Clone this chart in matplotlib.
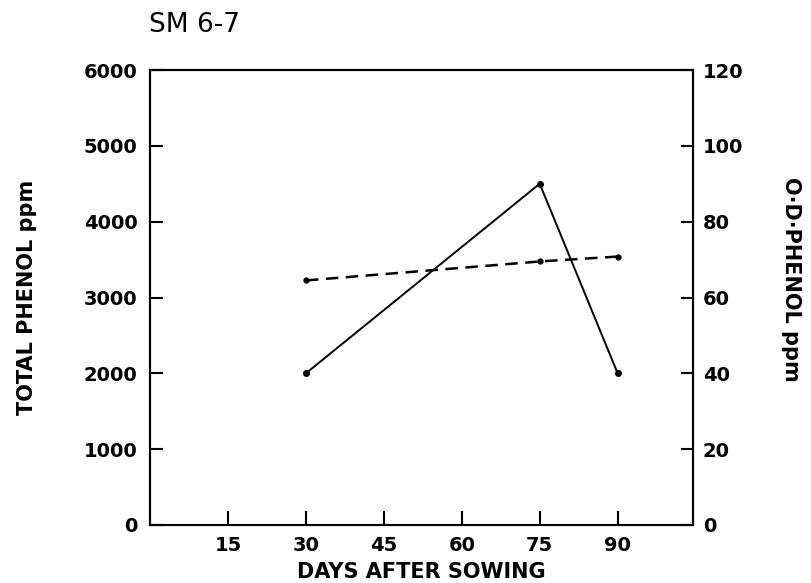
import matplotlib
matplotlib.use('Agg')
import matplotlib.pyplot as plt

# data
days = [30, 75, 90]
total_phenol = [2000, 4500, 2000]      # left axis, ppm
od_phenol = [64.5, 69.5, 70.8]          # right axis, ppm

x_ticks = [15, 30, 45, 60, 75, 90]
left_ticks = [0, 1000, 2000, 3000, 4000, 5000, 6000]
right_ticks = [0, 20, 40, 60, 80, 100, 120]

plt.rcParams['font.family'] = 'DejaVu Sans'
plt.rcParams['font.weight'] = 'bold'
plt.rcParams['axes.labelweight'] = 'bold'
plt.rcParams['axes.linewidth'] = 1.5

fig = plt.figure(figsize=(8.11, 5.83), dpi=100)
ax = fig.add_axes([150 / 811, 1 - 525 / 583, 543 / 811, 455 / 583])
ax2 = ax.twinx()

ax.plot(days, total_phenol, '-', color='black', lw=1.4,
        marker='o', ms=4, zorder=3)
ax2.plot(days, od_phenol, '--', color='black', lw=1.8, dashes=(5, 3),
         marker='o', ms=3.5, zorder=3)

ax.set_xlim(0, 104.5)
ax.set_ylim(0, 6000)
ax2.set_ylim(0, 120)

ax.set_xticks(x_ticks)
ax.set_yticks(left_ticks)
ax2.set_yticks(right_ticks)

ax.tick_params(axis='x', direction='in', length=10, width=1.5,
               pad=8, labelsize=14)
ax.tick_params(axis='y', direction='in', length=9, width=1.5,
               pad=9, labelsize=14)
ax2.tick_params(axis='y', direction='in', length=9, width=1.5,
                pad=7, labelsize=14)

ax.set_xlabel('DAYS AFTER SOWING', fontsize=15, labelpad=5)
ax.set_ylabel('TOTAL PHENOL ppm', fontsize=15, va='center')
ax.yaxis.set_label_coords(-0.226, 0.5)
ax2.set_ylabel('O·D·PHENOL ppm', fontsize=15, rotation=270, va='center')
ax2.yaxis.set_label_coords(1.18, 0.54)

fig.text(149 / 811, 1 - 25 / 583, 'SM 6-7', fontsize=19,
         fontweight='normal', ha='left', va='center')

fig.savefig('out.png', dpi=100)
